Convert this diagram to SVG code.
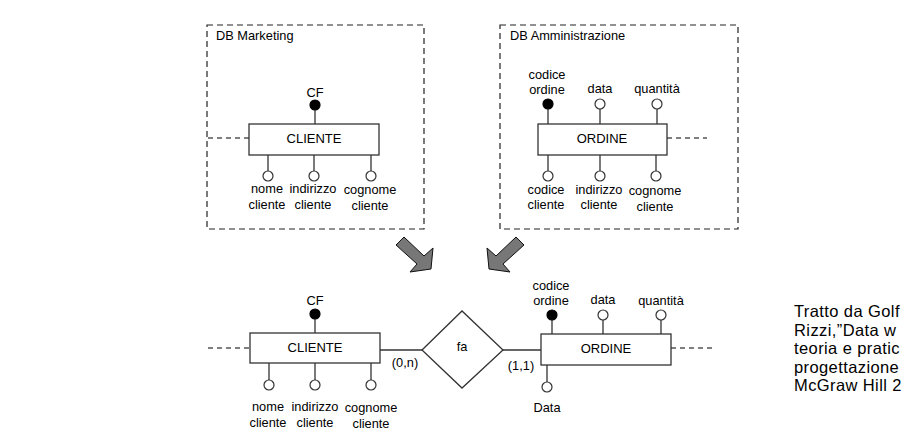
<svg xmlns="http://www.w3.org/2000/svg" width="912" height="433" viewBox="0 0 912 433">
<style>
text{font-family:"Liberation Sans",Arial,sans-serif;fill:#000}
.lbl{font-size:12.8px;text-anchor:middle}
.ent{font-size:13px;text-anchor:middle}
.box{fill:none;stroke:#222;stroke-width:1.2;stroke-dasharray:6,4}
.rect{fill:#fff;stroke:#333;stroke-width:1.3}
.ln{stroke:#333;stroke-width:1.3;fill:none}
.dl{stroke:#555;stroke-width:1.3;stroke-dasharray:5,4;fill:none}
.oc{fill:#fff;stroke:#333;stroke-width:1.2}
.fc{fill:#000;stroke:#000;stroke-width:1.2}
.arr{fill:#777;stroke:#111;stroke-width:1}
.note{font-size:16.5px;letter-spacing:0.4px}
</style>
<rect width="912" height="433" fill="#fff"/>

<g id="db-marketing">
<rect class="box" x="207" y="25" width="217" height="204"/>
<text x="216" y="40" style="font-size:12.8px">DB Marketing</text>
</g>
<g id="db-amministrazione">
<rect class="box" x="500" y="25" width="238" height="204"/>
<text x="510" y="40" style="font-size:12.8px">DB Amministrazione</text>
</g>

<g id="connectors">
<line class="dl" x1="208" y1="138" x2="249" y2="138"/>
<line class="dl" x1="667" y1="138" x2="707" y2="138"/>
<line class="dl" x1="208" y1="348" x2="250" y2="348"/>
<line class="dl" x1="671" y1="348" x2="712" y2="348"/>
<line class="ln" x1="380" y1="350" x2="422" y2="350"/>
<line class="ln" x1="503" y1="350" x2="541" y2="350"/>
</g>

<g id="cliente-top">
<rect class="rect" x="249" y="124" width="130" height="31"/>
<text class="ent" x="314" y="143">CLIENTE</text>
<line class="ln" x1="315" y1="110" x2="315" y2="124"/>
<circle class="fc" cx="315" cy="105" r="5"/>
<text class="lbl" x="315" y="97">CF</text>
<line class="ln" x1="268" y1="155" x2="268" y2="171"/>
<circle class="oc" cx="268" cy="176" r="5"/>
<line class="ln" x1="314" y1="155" x2="314" y2="171"/>
<circle class="oc" cx="314" cy="176" r="5"/>
<line class="ln" x1="371" y1="155" x2="371" y2="171"/>
<circle class="oc" cx="371" cy="176" r="5"/>
<text class="lbl" x="267" y="193">nome</text>
<text class="lbl" x="267" y="209">cliente</text>
<text class="lbl" x="313" y="193">indirizzo</text>
<text class="lbl" x="313" y="209">cliente</text>
<text class="lbl" x="370" y="194">cognome</text>
<text class="lbl" x="370" y="210">cliente</text>
</g>

<g id="ordine-top">
<rect class="rect" x="538" y="124" width="129" height="31"/>
<text class="ent" x="602" y="143">ORDINE</text>
<line class="ln" x1="548" y1="109" x2="548" y2="124"/>
<circle class="fc" cx="548" cy="104" r="5"/>
<line class="ln" x1="600" y1="109" x2="600" y2="124"/>
<circle class="oc" cx="600" cy="104" r="5"/>
<line class="ln" x1="657" y1="109" x2="657" y2="124"/>
<circle class="oc" cx="657" cy="104" r="5"/>
<text class="lbl" x="547" y="79">codice</text>
<text class="lbl" x="547" y="94">ordine</text>
<text class="lbl" x="600" y="93">data</text>
<text class="lbl" x="657" y="93">quantità</text>
<line class="ln" x1="548" y1="155" x2="548" y2="171"/>
<circle class="oc" cx="548" cy="176" r="5"/>
<line class="ln" x1="600" y1="155" x2="600" y2="171"/>
<circle class="oc" cx="600" cy="176" r="5"/>
<line class="ln" x1="656" y1="155" x2="656" y2="171"/>
<circle class="oc" cx="656" cy="176" r="5"/>
<text class="lbl" x="546" y="194">codice</text>
<text class="lbl" x="546" y="209">cliente</text>
<text class="lbl" x="599" y="194">indirizzo</text>
<text class="lbl" x="599" y="209">cliente</text>
<text class="lbl" x="655" y="195">cognome</text>
<text class="lbl" x="655" y="211">cliente</text>
</g>

<g id="arrow-left">
<polygon class="arr" points="396,245 404,237 424,256 433,248 431,269 410,272 417,264"/>
</g>
<g id="arrow-right">
<polygon class="arr" points="524,245 516,237 496,256 487,248 489,269 510,272 503,264"/>
</g>

<g id="cliente">
<rect class="rect" x="250" y="333" width="130" height="30"/>
<text class="ent" x="315" y="352">CLIENTE</text>
<line class="ln" x1="315" y1="319" x2="315" y2="333"/>
<circle class="fc" cx="315" cy="314" r="5"/>
<text class="lbl" x="315" y="305">CF</text>
<line class="ln" x1="269" y1="363" x2="269" y2="380"/>
<circle class="oc" cx="269" cy="385" r="5"/>
<line class="ln" x1="315" y1="363" x2="315" y2="380"/>
<circle class="oc" cx="315" cy="385" r="5"/>
<line class="ln" x1="371" y1="363" x2="371" y2="380"/>
<circle class="oc" cx="371" cy="385" r="5"/>
<text class="lbl" x="268" y="411">nome</text>
<text class="lbl" x="268" y="427">cliente</text>
<text class="lbl" x="315" y="411">indirizzo</text>
<text class="lbl" x="315" y="427">cliente</text>
<text class="lbl" x="371" y="412">cognome</text>
<text class="lbl" x="371" y="428">cliente</text>
<text class="lbl" x="405" y="367">(0,n)</text>
</g>

<g id="fa">
<polygon class="rect" points="422,350 462,311 503,350 462,388"/>
<text class="lbl" x="462" y="351">fa</text>
<text class="lbl" x="521" y="370">(1,1)</text>
</g>

<g id="ordine">
<rect class="rect" x="541" y="334" width="130" height="31"/>
<text class="ent" x="606" y="353">ORDINE</text>
<line class="ln" x1="552" y1="320" x2="552" y2="334"/>
<circle class="fc" cx="552" cy="315" r="5"/>
<line class="ln" x1="603" y1="320" x2="603" y2="334"/>
<circle class="oc" cx="603" cy="315" r="5"/>
<line class="ln" x1="661" y1="320" x2="661" y2="334"/>
<circle class="oc" cx="661" cy="315" r="5"/>
<text class="lbl" x="551" y="290">codice</text>
<text class="lbl" x="551" y="305">ordine</text>
<text class="lbl" x="603" y="304">data</text>
<text class="lbl" x="661" y="305">quantità</text>
<line class="ln" x1="547" y1="365" x2="547" y2="382"/>
<circle class="oc" cx="547" cy="387" r="5"/>
<text class="lbl" x="547" y="412">Data</text>
</g>

<g id="note">
<text class="note" x="794" y="317"><tspan x="794" y="317">Tratto da Golf</tspan><tspan x="794" y="335.6">Rizzi,”Data w</tspan><tspan x="794" y="354.2">teoria e pratic</tspan><tspan x="794" y="372.8">progettazione</tspan><tspan x="794" y="391.4">McGraw Hill 2</tspan></text>
</g>
</svg>
